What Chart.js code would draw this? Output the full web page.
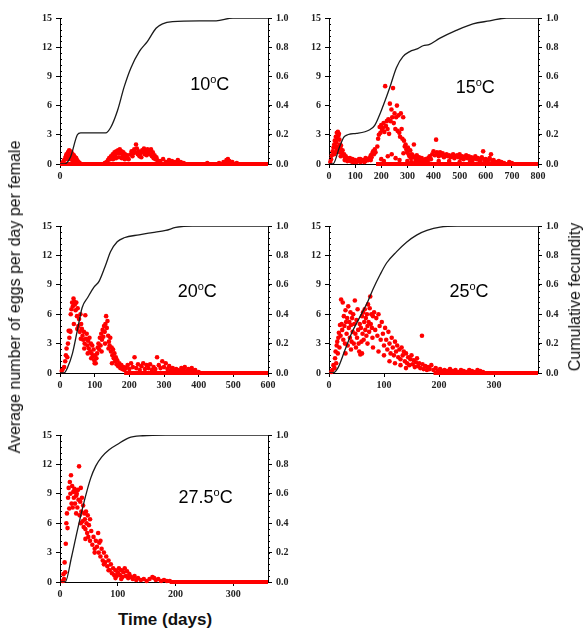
<!DOCTYPE html>
<html>
<head>
<meta charset="utf-8">
<script src="https://cdn.jsdelivr.net/npm/chart.js@4.4.1/dist/chart.umd.min.js"></script>
<style>
body{margin:0;background:#fff;width:587px;height:634px;position:relative;overflow:hidden;font-family:'Liberation Sans',Arial,sans-serif;color:#111}
canvas{position:absolute}
.yt{position:absolute;white-space:nowrap;font-size:16px;transform:translate(-50%,-50%) rotate(-90deg)}
</style>
</head>
<body>
<canvas id="c10" width="283" height="180" style="left:20px;top:8px"></canvas>
<canvas id="c15" width="284" height="180" style="left:289px;top:8px"></canvas>
<canvas id="c20" width="283" height="181" style="left:20px;top:216px"></canvas>
<canvas id="c25" width="284" height="181" style="left:289px;top:216px"></canvas>
<canvas id="c27" width="283" height="181" style="left:20px;top:425px"></canvas>
<div class="yt" style="left:15px;top:297px">Average number of eggs per day per female</div>
<div class="yt" style="left:575px;top:297px">Cumulative fecundity</div>
<div style="position:absolute;left:165px;top:620px;transform:translate(-50%,-50%);font-weight:bold;font-size:17px;white-space:nowrap">Time (days)</div>
<script>
// tick labels
const leftTicks = [0, 3, 6, 9, 12, 15];
const rightTicks = [0, 0.2, 0.4, 0.6, 0.8, 1.0];

// 10 oC : daily eggs [day, eggs] and cumulative fecundity [day, fraction]
const eggs10 = [[10,0.2],[14,0.4],[18,0.6],[20,0.8],[22,1.0],[25,0.9],[27,1.2],[29,1.0],[31,1.4],[33,1.1],[35,1.3],[37,0.9],[39,1.2],[41,0.8],[43,1.0],[45,0.7],[47,0.9],[49,0.6],[51,0.7],[53,0.5],[55,0.6],[57,0.4],[60,0.3],[63,0.2],[67,0.1],[24,0.5],[30,0.6],[36,0.5],[42,0.4],[48,0.3],
 [152,0.1],[158,0.2],[163,0.4],[167,0.6],[170,0.5],[173,0.8],[176,0.7],[179,1.0],[182,0.9],[185,1.2],[188,1.0],[191,1.3],[194,1.1],[197,1.4],[200,1.2],[203,1.5],[206,1.1],[209,1.3],[212,1.0],[215,1.2],[218,0.8],[221,1.0],[224,0.7],[227,0.6],[230,0.9],[233,0.5],[180,0.5],[190,0.6],[200,0.7],[210,0.6],[220,0.5],
 [240,1.0],[243,1.3],[246,0.8],[249,1.1],[252,1.5],[255,1.2],[258,2.0],[261,1.6],[264,1.0],[267,1.3],[270,0.8],[273,1.1],[276,0.7],[279,1.4],[282,1.2],[285,1.6],[288,1.0],[291,1.3],[294,0.9],[297,1.5],[300,1.1],[303,1.4],[306,1.0],[309,1.5],[312,0.8],[315,1.2],[318,0.6],[321,0.9],[324,0.5],[327,0.7],[330,0.4],
 [340,0.3],[350,0.5],[360,0.2],[370,0.4],[380,0.3],[390,0.2],[400,0.4],[410,0.2],[420,0.1],[500,0.1],[540,0.1],[555,0.2],[565,0.4],[570,0.5],[575,0.3],[585,0.2],[600,0.1]];
const cum10 = [[0,0],[15,0],[36,0.05],[59,0.2],[70,0.213],[155,0.213],[172,0.25],[195,0.365],[218,0.53],[241,0.66],[269,0.77],[297,0.84],[326,0.93],[348,0.96],[382,0.975],[473,0.98],[530,0.98],[587,1.0],[706,1.0]];

// 15 oC
const eggs15 = [[5,0.2],[8,0.5],[11,0.9],[14,1.3],[17,1.7],[20,2.0],[22,2.4],[24,1.8],[26,2.8],[28,2.2],[30,3.2],[32,2.6],[34,3.3],[36,2.9],[38,3.1],[40,2.5],[42,2.0],[44,1.6],[46,1.9],[48,1.3],[50,1.1],[52,1.4],[55,0.9],[58,1.0],[61,0.7],[64,0.8],[67,0.5],[70,0.6],[74,0.4],[78,0.5],[82,0.3],[86,0.4],[90,0.2],[95,0.3],[100,0.4],[105,0.2],[110,0.3],[115,0.5],[120,0.2],[125,0.3],[130,0.4],[135,0.2],[140,0.3],[145,0.5],[150,0.4],[155,0.6],[160,0.9],[163,0.7],[166,1.1],[169,1.3],[172,1.0],[175,1.5],[178,1.2],[20,1.0],[25,1.2],[30,1.5],[35,1.8],[40,1.2],[45,0.8],[60,0.4],[70,0.3],[80,0.6],[90,0.5],[100,0.2],[120,0.5],[140,0.6],[160,0.4],
 [185,1.8],[188,2.6],[191,3.0],[194,3.8],[197,3.2],[200,4.0],[203,3.5],[206,3.7],[209,4.2],[212,3.3],[215,8.0],[218,3.9],[221,4.4],[224,3.6],[227,4.6],[230,3.1],[233,6.2],[236,4.4],[239,5.6],[242,4.8],[245,7.8],[248,4.2],[251,5.2],[254,3.6],[257,4.8],[260,6.0],[263,3.4],[266,5.0],[269,3.2],[272,2.8],[275,5.2],[278,3.6],[281,2.6],[284,4.8],[287,2.4],[290,1.8],[293,2.0],[296,1.5],[299,1.2],[302,1.7],[305,1.0],[308,0.8],[311,1.4],[314,0.6],[317,1.0],[320,0.9],[325,2.0],[328,0.7],[332,0.5],[336,0.9],[340,0.4],[345,0.7],[350,0.3],[355,0.6],[360,0.4],[365,0.2],[370,0.5],[375,0.3],[380,0.6],[385,0.8],[390,0.5],[395,1.0],[400,1.3],[405,0.9],[410,2.5],[413,1.2],[416,1.0],[420,0.8],[425,1.2],[430,0.9],[435,1.1],[440,0.7],[445,0.9],[450,1.0],[455,0.8],[460,0.9],[465,0.7],[470,0.8],[475,1.0],[480,0.6],[485,0.8],[490,0.9],[495,0.7],[500,1.0],[505,0.6],[510,0.8],[515,0.5],[520,0.7],[525,0.9],[530,0.6],[535,0.8],[540,0.5],[545,0.7],[550,0.4],[555,0.6],[560,0.8],[565,0.5],[570,0.6],[575,0.4],[580,0.5],[585,0.7],[590,1.3],[595,0.4],[600,0.5],[605,0.3],[610,0.4],[615,0.6],[620,1.0],[625,0.3],[630,0.4],[640,0.2],[650,0.3],[660,0.2],[670,0.1],[690,0.2],[700,0.1],
 [200,0.5],[210,0.3],[225,0.8],[240,1.0],[255,0.6],[270,0.4],[285,1.1],[300,0.3],[315,0.2],[330,0.2],[350,0.1],[380,0.1],[420,0.3],[460,0.3],[500,0.2],[540,0.2],[580,0.2]];
const cum15 = [[0,0],[15,0],[41,0.12],[60,0.19],[105,0.21],[156,0.235],[175,0.265],[200,0.365],[232,0.52],[258,0.66],[283,0.735],[309,0.77],[340,0.79],[360,0.81],[385,0.82],[423,0.86],[487,0.915],[551,0.96],[615,0.98],[679,1.0],[800,1.0]];

// 20 oC
const eggs20 = [[5,0.2],[8,0.4],[12,0.6],[15,1.2],[17,1.8],[19,2.5],[21,1.6],[23,3.0],[25,4.3],[27,3.6],[29,4.3],[31,6.0],[33,6.5],[35,7.2],[37,6.8],[39,7.6],[41,7.3],[43,7.0],[45,6.4],[47,7.2],[49,5.8],[51,6.6],[53,4.8],[55,5.5],[57,4.2],[59,6.0],[61,5.0],[63,4.5],[65,3.8],[67,3.4],[69,4.2],[71,3.0],[73,5.9],[75,3.5],[77,4.0],[79,2.8],[81,3.3],[83,2.5],[85,3.6],[87,2.2],[89,3.0],[91,2.0],[93,2.8],[95,1.7],[97,2.4],[99,1.3],[101,1.8],[103,1.0],[105,1.5],[107,2.0],[109,2.6],[111,3.0],[113,2.4],[115,3.6],[117,2.8],[119,4.0],[121,3.4],[123,4.4],[125,3.7],[127,4.8],[129,4.2],[131,5.0],[133,5.8],[135,4.6],[137,5.3],[139,3.8],[141,3.2],[143,2.8],[145,3.6],[147,2.2],[149,2.6],[151,1.8],[153,2.4],[155,1.5],[157,2.0],[159,1.2],[161,1.6],[163,0.9],[165,1.3],[168,0.7],[171,1.0],[174,0.5],[177,0.8],[180,0.4],[183,0.6],[186,0.3],[190,0.5],[195,0.8],[200,0.4],[205,1.0],[210,0.6],[215,1.6],[220,0.5],[225,0.9],[230,0.3],[235,0.7],[240,1.0],[245,0.4],[250,0.8],[255,0.5],[260,0.9],[265,0.3],[270,0.6],[275,0.4],[280,1.6],[285,0.8],[290,0.5],[295,1.2],[300,0.6],[305,1.0],[310,0.4],[315,0.7],[320,0.3],[325,0.5],[330,0.2],[335,0.4],[340,0.3],[345,0.2],[350,0.5],[355,0.3],[360,0.6],[365,0.2],[370,0.4],[375,0.3],[380,0.5],[385,0.2],[390,0.3],[400,0.1],
 [30,4.2],[40,5.0],[50,4.5],[60,3.5],[70,2.5],[80,2.0],[90,1.5],[100,1.0],[120,2.2],[130,3.0],[140,2.5],[150,1.0]];
const cum20 = [[0,0],[12,0],[21,0.033],[36,0.134],[50,0.29],[64,0.446],[79,0.51],[98,0.585],[113,0.625],[132,0.737],[146,0.826],[165,0.893],[185,0.92],[228,0.94],[266,0.955],[305,0.97],[334,0.99],[382,1.0],[600,1.0]];

// 25 oC
const eggs25 = [[4,0.1],[6,0.3],[8,0.8],[10,0.5],[11,1.5],[12,2.2],[13,1.0],[14,2.8],[15,3.2],[16,2.0],[17,3.6],[18,4.1],[19,2.6],[20,4.9],[21,3.8],[22,7.5],[23,5.0],[24,4.4],[25,7.2],[26,3.4],[27,5.8],[28,4.8],[29,3.0],[30,6.4],[31,5.2],[32,4.0],[33,5.6],[34,2.8],[35,6.8],[36,4.6],[37,5.2],[38,3.6],[39,6.2],[40,4.9],[41,3.2],[42,5.6],[43,4.2],[44,6.0],[45,3.0],[46,5.0],[47,7.4],[48,4.0],[49,2.6],[50,5.4],[51,3.6],[52,6.5],[53,4.4],[54,3.0],[55,2.2],[56,5.0],[57,1.9],[58,4.6],[59,3.2],[60,5.8],[61,4.0],[62,6.2],[63,3.4],[64,5.2],[65,6.5],[66,4.4],[67,5.6],[68,3.8],[69,6.0],[70,4.8],[71,7.0],[72,5.2],[73,4.2],[74,6.6],[75,7.8],[76,5.0],[77,6.0],[78,4.6],[79,3.6],[80,5.8],[82,6.2],[84,4.4],[86,5.6],[88,3.8],[90,6.0],[92,4.8],[94,3.4],[96,5.2],[98,4.0],[100,2.8],[102,4.6],[104,3.4],[106,2.4],[108,4.2],[110,3.0],[112,2.0],[114,3.6],[116,2.6],[118,1.8],[120,3.2],[122,2.2],[124,2.8],[126,1.6],[128,2.4],[130,1.4],[132,2.6],[134,1.8],[136,2.2],[138,1.2],[140,2.0],[142,1.0],[144,1.6],[146,0.8],[148,1.4],[150,1.8],[152,0.9],[154,1.3],[156,0.6],[158,1.1],[160,1.5],[162,0.7],[164,1.0],[166,0.5],[169,3.8],[170,0.9],[172,0.4],[175,0.7],[178,0.3],[180,0.6],[183,0.4],[186,0.8],[190,0.3],[194,0.5],[198,0.2],[202,0.4],[206,0.2],[210,0.3],[215,0.2],[220,0.4],[225,0.2],[230,0.3],[235,0.1],[240,0.3],[245,0.2],[250,0.1],[255,0.3],[260,0.2],[265,0.1],[270,0.3],[275,0.2],[280,0.1],
 [30,2.0],[40,2.4],[60,2.0],[70,3.0],[80,2.6],[90,2.2],[100,1.8],[110,1.2],[120,1.0],[130,0.8],[140,0.5]];
const cum25 = [[0,0],[7,0],[16,0.033],[29,0.156],[41,0.27],[56,0.38],[71,0.49],[80,0.57],[93,0.67],[105,0.75],[123,0.826],[141,0.89],[160,0.94],[178,0.97],[202,0.993],[233,1.0],[380,1.0]];

// 27.5 oC
const eggs27 = [[5,0.1],[6,0.8],[7,0.3],[8,2.0],[9,1.0],[10,3.9],[11,6.0],[12,7.0],[13,5.5],[14,8.6],[15,9.6],[16,7.5],[17,10.2],[18,9.0],[19,10.9],[20,8.0],[21,9.8],[22,7.6],[23,9.2],[24,8.6],[25,9.5],[26,8.0],[27,9.2],[28,8.8],[29,9.0],[30,7.6],[31,9.4],[32,8.4],[33,11.8],[34,6.8],[35,8.2],[36,9.6],[37,7.2],[38,8.6],[39,6.2],[40,7.8],[41,5.6],[42,7.0],[43,6.4],[44,5.4],[45,7.2],[46,6.0],[47,5.0],[48,6.8],[49,4.6],[50,5.8],[52,4.2],[54,5.2],[56,3.8],[58,4.6],[60,3.4],[62,4.2],[64,3.6],[66,5.0],[67,3.0],[68,4.0],[70,2.6],[72,3.4],[74,2.2],[76,3.0],[78,2.0],[80,2.6],[82,1.6],[84,2.2],[86,1.2],[88,1.8],[90,0.9],[92,1.4],[94,0.7],[96,1.2],[98,0.6],[100,1.0],[102,1.4],[104,0.7],[106,1.2],[108,0.5],[110,1.0],[112,1.4],[114,0.6],[116,1.1],[118,0.4],[120,0.8],[123,0.5],[126,0.3],[129,0.6],[132,0.2],[135,0.4],[140,0.2],[145,0.3],[150,0.1],[155,0.3],[160,0.5],[163,0.4],[166,0.2],[170,0.3],[175,0.1],[180,0.2],[185,0.1],[190,0.1],
 [28,7.0],[36,6.0],[44,4.4],[52,6.4],[60,3.0],[70,4.2],[76,1.8],[84,1.2],[96,0.4],[106,0.3]];
const cum27 = [[0,0],[9,0],[20,0.17],[30,0.35],[42,0.55],[53,0.705],[62,0.79],[72,0.85],[85,0.9],[99,0.935],[119,0.98],[143,0.995],[183,1.0],[360,1.0]];

const tickFont = { family: "'Liberation Serif', 'Times New Roman', serif", size: 10, weight: 'bold' };

// temperature label + minor ticks
const panelDeco = {
  id: 'panelDeco',
  afterDraw(chart, args, o) {
    const ctx = chart.ctx, a = chart.chartArea;
    const ys = chart.scales.y, y2 = chart.scales.y2;
    ctx.save();
    ctx.strokeStyle = '#000';
    ctx.lineWidth = 1;
    ctx.beginPath();
    for (let v = 0.6; v < 15; v += 0.6) {
      const py = Math.round(ys.getPixelForValue(v)) + 0.5;
      ctx.moveTo(a.left, py); ctx.lineTo(a.left + 2, py);
    }
    for (let v = 0.04; v < 1; v += 0.04) {
      const py = Math.round(y2.getPixelForValue(v)) + 0.5;
      ctx.moveTo(a.right, py); ctx.lineTo(a.right + 2, py);
    }
    ctx.stroke();

    const big = "18px 'Liberation Sans', Arial, sans-serif";
    const small = "11px 'Liberation Sans', Arial, sans-serif";
    ctx.fillStyle = '#000';
    ctx.textBaseline = 'alphabetic';
    ctx.font = big;
    const w1 = ctx.measureText(o.num).width, w3 = ctx.measureText('C').width;
    ctx.font = small;
    const w2 = ctx.measureText('o').width;
    const cx = a.left + o.fx * (a.right - a.left);
    const cy = a.top + o.fy * (a.bottom - a.top) + 6.5;
    let x = cx - (w1 + w2 + w3) / 2;
    ctx.font = big; ctx.fillText(o.num, x, cy); x += w1;
    ctx.font = small; ctx.fillText('o', x, cy - 7); x += w2;
    ctx.font = big; ctx.fillText('C', x, cy);
    ctx.restore();
  }
};

function makePanel(id, eggs, cum, zeroFrom, xMax, num, fx, fy) {
  return new Chart(document.getElementById(id), {
    type: 'scatter',
    data: {
      datasets: [
        { type: 'line', data: cum.map(p => ({ x: p[0], y: p[1] })), yAxisID: 'y2',
          borderColor: '#1a1a1a', borderWidth: 1.3, pointRadius: 0, cubicInterpolationMode: 'monotone', order: 0 },
        { data: eggs.map(p => ({ x: p[0], y: p[1] })), yAxisID: 'y',
          backgroundColor: '#ff0000', borderWidth: 0, pointRadius: 2.3, clip: 4, order: 1 },
        { type: 'line', data: [{ x: zeroFrom, y: 0 }, { x: xMax, y: 0 }], yAxisID: 'y',
          borderColor: '#ff0000', borderWidth: 4, pointRadius: 0, clip: 4, order: 2 }
      ]
    },
    options: {
      responsive: false,
      animation: false,
      devicePixelRatio: 1,
      layout: { padding: { top: 8, left: 0, right: 0, bottom: 0 } },
      plugins: { legend: { display: false }, tooltip: { enabled: false }, panelDeco: { num: num, fx: fx, fy: fy } },
      scales: {
        x: {
          type: 'linear', min: 0, max: xMax,
          afterBuildTicks: s => { s.ticks = s.ticks.filter(t => t.value % 100 === 0); },
          afterFit: s => { s.height = 24; },
          ticks: { stepSize: 100, autoSkip: false, maxRotation: 0, font: tickFont, color: '#222', padding: 2 },
          grid: { drawOnChartArea: false, tickLength: 4, color: '#000' },
          border: { color: '#000', width: 1 }
        },
        y: {
          position: 'left', min: 0, max: 15,
          afterBuildTicks: s => { s.ticks = leftTicks.map(v => ({ value: v })); },
          afterFit: s => { s.width = 40; },
          ticks: { font: tickFont, color: '#222', padding: 4 },
          grid: { drawOnChartArea: false, tickLength: 4, color: '#000' },
          border: { color: '#000', width: 1 }
        },
        y2: {
          position: 'right', min: 0, max: 1,
          afterBuildTicks: s => { s.ticks = rightTicks.map(v => ({ value: v })); },
          afterFit: s => { s.width = 35; },
          ticks: { font: tickFont, color: '#222', padding: 4, callback: v => v.toFixed(1) },
          grid: { drawOnChartArea: false, tickLength: 4, color: '#000' },
          border: { color: '#000', width: 1 }
        }
      }
    },
    plugins: [panelDeco]
  });
}

makePanel('c10', eggs10, cum10, 0, 706, '10', 0.72, 0.45);
makePanel('c15', eggs15, cum15, 180, 800, '15', 0.70, 0.47);
makePanel('c20', eggs20, cum20, 185, 600, '20', 0.66, 0.44);
makePanel('c25', eggs25, cum25, 190, 380, '25', 0.67, 0.44);
makePanel('c27', eggs27, cum27, 190, 360, '27.5', 0.70, 0.42);
</script>
</body>
</html>
